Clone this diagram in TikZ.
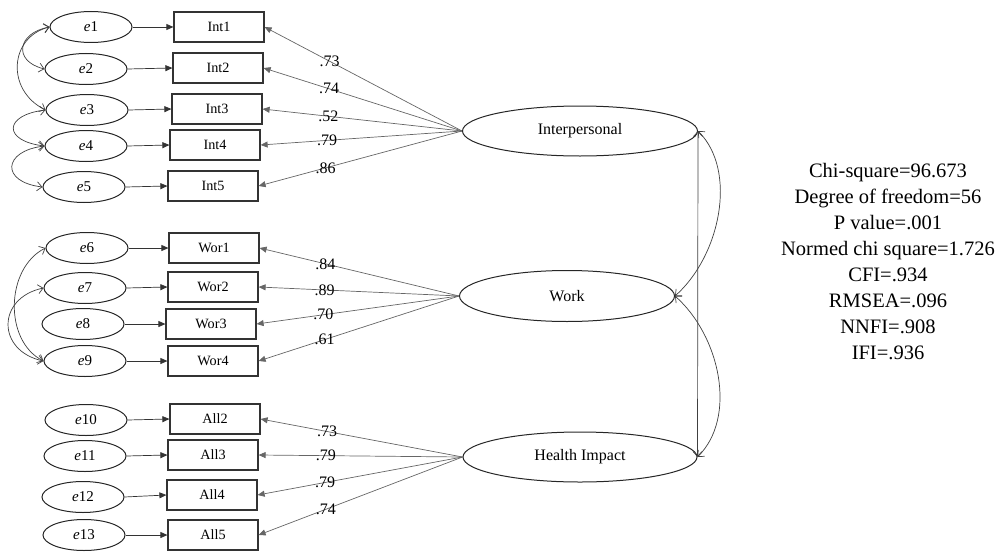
\documentclass[tikz,border=0pt]{standalone}
\usepackage{fontspec}
\setmainfont{Liberation Serif}
\usetikzlibrary{shapes.geometric,arrows.meta}
\begin{document}
\begin{tikzpicture}[x=1pt,y=-1pt,
 err/.style={draw=black!85, line width=1pt, ellipse, inner sep=0pt, minimum width=82pt, minimum height=31pt, font=\fontsize{15}{16}\selectfont},
 obs/.style={draw=black!80, line width=1.2pt, rectangle, inner sep=0pt, minimum width=90pt, minimum height=30pt, font=\fontsize{14.2}{15}\selectfont},
 lat/.style={draw=black!85, line width=1pt, ellipse, inner sep=0pt, minimum height=50pt, font=\fontsize{16}{17}\selectfont},
 ear/.style={draw=black!80, line width=0.7pt, -{Triangle[length=7pt,width=6pt]}},
 load/.style={draw=black!60, line width=0.7pt, -{Triangle[length=7pt,width=6pt]}},
 cov/.style={draw=black!75, line width=0.7pt, {Straight Barb[length=5pt,width=9pt]}-{Straight Barb[length=5pt,width=9pt]}},
 lbl/.style={font=\fontsize{16}{17}\selectfont, inner sep=0pt},
]
\useasboundingbox (0,0) rectangle (995,551);
% error terms
\node[err] (e1) at (91,27) {\textit{e}1};
\node[err] (e2) at (86,69) {\textit{e}2};
\node[err] (e3) at (87,110) {\textit{e}3};
\node[err] (e4) at (86,146) {\textit{e}4};
\node[err] (e5) at (84,187) {\textit{e}5};
\node[err] (e6) at (87,248) {\textit{e}6};
\node[err] (e7) at (85,288) {\textit{e}7};
\node[err] (e8) at (83,324) {\textit{e}8};
\node[err] (e9) at (85,361) {\textit{e}9};
\node[err] (e10) at (86,420) {\textit{e}10};
\node[err] (e11) at (85,456) {\textit{e}11};
\node[err] (e12) at (83,497) {\textit{e}12};
\node[err] (e13) at (84,535) {\textit{e}13};
% observed
\node[obs] (i1) at (219,27) {Int1};
\node[obs] (i2) at (218,68) {Int2};
\node[obs] (i3) at (217,109) {Int3};
\node[obs] (i4) at (215,145) {Int4};
\node[obs] (i5) at (213,186) {Int5};
\node[obs] (w1) at (214,248) {Wor1};
\node[obs] (w2) at (213,287) {Wor2};
\node[obs] (w3) at (211,324) {Wor3};
\node[obs] (w4) at (213,361) {Wor4};
\node[obs] (a2) at (215,419) {All2};
\node[obs] (a3) at (213,455) {All3};
\node[obs] (a4) at (212,495) {All4};
\node[obs] (a5) at (213,535) {All5};
% latent
\node[lat, minimum width=235pt] (int) at (580,131) {Interpersonal};
\node[lat, minimum width=215pt, minimum height=51pt] (wrk) at (567,296) {Work};
\node[lat, minimum width=234pt] (hea) at (580,457) {Health Impact};
% error arrows
\foreach \e/\o in {e1/i1,e2/i2,e3/i3,e4/i4,e5/i5,e6/w1,e7/w2,e8/w3,e9/w4,e10/a2,e11/a3,e12/a4,e13/a5}
  \draw[ear] (\e.east) -- (\o.west);
% loadings
\foreach \o/\v in {i1/.73,i2/.74,i3/.52,i4/.79,i5/.86}
  \draw[load] (int.west) -- node[lbl,pos=0.67] {\v} (\o.east);
\foreach \o/\v in {w1/.84,w2/.89,w3/.70,w4/.61}
  \draw[load] (wrk.west) -- node[lbl,pos=0.67] {\v} (\o.east);
\foreach \o/\v in {a2/.73,a3/.79,a4/.79,a5/.74}
  \draw[load] (hea.west) -- node[lbl,pos=0.67] {\v} (\o.east);
% error covariances
\draw[cov] (e1.west) .. controls +(-32,6) and +(-32,-8) .. (e2.west);
\draw[cov] (e1.west) .. controls +(-40,10) and +(-40,-20) .. (e3.west);
\draw[cov] (e3.west) .. controls +(-42,5) and +(-42,-5) .. (e4.west);
\draw[cov] (e4.west) .. controls +(-42,5) and +(-42,-5) .. (e5.west);
\draw[cov] (e6.west) .. controls +(-40,20) and +(-40,-20) .. (e9.west);
\draw[cov] (e7.west) .. controls +(-47,10) and +(-47,-10) .. (e9.west);
% factor covariances
\draw[cov] (int.east) .. controls +(40,40) and +(45,-40) .. (wrk.east);
\draw[cov] (wrk.east) .. controls +(45,40) and +(40,-40) .. (hea.east);
\draw[cov] (int.east) -- (hea.east);
% fit statistics
\node[align=center, inner sep=0pt, font=\fontsize{20.5}{26}\selectfont] (fit) at (888,262)
 {Chi-square=96.673\\Degree of freedom=56\\P value=.001\\Normed chi square=1.726\\CFI=.934\\RMSEA=.096\\NNFI=.908\\IFI=.936};
\end{tikzpicture}
\end{document}
